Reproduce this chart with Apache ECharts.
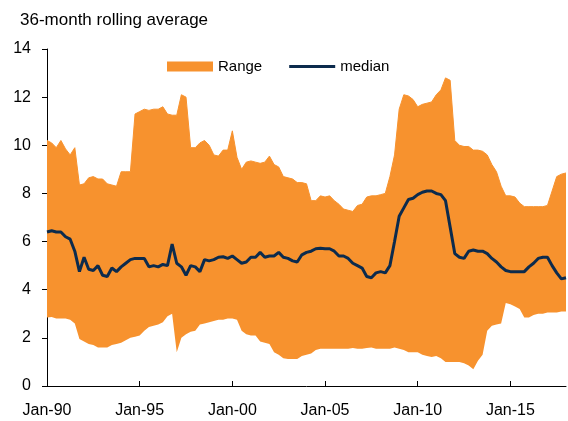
<!DOCTYPE html>
<html lang="en">
<head>
<meta charset="UTF-8">
<title>36-month rolling average</title>
<script src="https://cdn.jsdelivr.net/npm/echarts@6/dist/echarts.min.js"></script>
<style>
  html, body { margin: 0; padding: 0; background: #fff; }
  #chart { width: 568px; height: 421px; }
</style>
</head>
<body>
<div id="chart"></div>
<script>
// quarterly points, Jan-90 .. Jan-18
var months = ['Jan', 'Apr', 'Jul', 'Oct'];
var tickLabels = ['Jan-90', 'Jan-95', 'Jan-00', 'Jan-05', 'Jan-10', 'Jan-15'];

var rangeHigh = [
  10.2, 10.1, 9.9, 10.2, 9.85, 9.6, 9.9, 8.35, 8.4, 8.65,
  8.7, 8.6, 8.6, 8.4, 8.35, 8.3, 8.9, 8.9, 8.9, 11.3,
  11.4, 11.5, 11.45, 11.5, 11.5, 11.6, 11.3, 11.25, 11.25, 12.1,
  12.0, 9.9, 9.9, 10.1, 10.2, 10.0, 9.6, 9.55, 9.8, 9.8,
  10.6, 9.5, 9.0, 9.3, 9.35, 9.3, 9.25, 9.3, 9.55, 9.2,
  9.1, 8.7, 8.65, 8.6, 8.45, 8.45, 8.4, 7.7, 7.7, 7.9,
  7.85, 7.9, 7.7, 7.55, 7.35, 7.3, 7.25, 7.5, 7.55, 7.85,
  7.9, 7.9, 7.95, 8.0, 8.7, 9.6, 11.5, 12.1, 12.05, 11.9,
  11.6, 11.7, 11.75, 11.8, 12.1, 12.3, 12.8, 12.7, 10.2, 10.0,
  9.95, 9.95, 9.8, 9.8, 9.75, 9.6, 9.2, 8.9, 8.3, 7.9,
  7.9, 7.85, 7.6, 7.45, 7.45, 7.45, 7.45, 7.45, 7.5, 8.1,
  8.7, 8.8, 8.85
];

var rangeLow = [
  2.85, 2.87, 2.8, 2.8, 2.8, 2.75, 2.6, 1.95, 1.85, 1.75,
  1.7, 1.6, 1.6, 1.6, 1.7, 1.75, 1.8, 1.9, 2.0, 2.05,
  2.1, 2.3, 2.45, 2.5, 2.55, 2.65, 2.9, 3.0, 1.4, 2.0,
  2.15, 2.25, 2.3, 2.55, 2.6, 2.65, 2.7, 2.75, 2.75, 2.8,
  2.8, 2.75, 2.3, 2.15, 2.1, 2.1, 1.85, 1.8, 1.75, 1.4,
  1.3, 1.15, 1.12, 1.12, 1.12, 1.25, 1.3, 1.35, 1.5, 1.55,
  1.55, 1.55, 1.55, 1.55, 1.55, 1.55, 1.58, 1.55, 1.55, 1.58,
  1.6, 1.55, 1.55, 1.55, 1.55, 1.6, 1.55, 1.5, 1.4, 1.4,
  1.4, 1.3, 1.25, 1.2, 1.25, 1.15, 1.0, 1.0, 1.0, 1.0,
  0.95, 0.85, 0.7, 1.05, 1.3, 2.3, 2.5, 2.55, 2.6, 3.45,
  3.4, 3.3, 3.2, 2.85, 2.85, 2.95, 3.0, 3.0, 3.05, 3.05,
  3.05, 3.1, 3.1
];

var median = [
  6.4, 6.45, 6.4, 6.4, 6.2, 6.1, 5.6, 4.75, 5.35, 4.85,
  4.8, 5.0, 4.6, 4.55, 4.9, 4.75, 4.95, 5.1, 5.25, 5.3,
  5.3, 5.3, 4.95, 5.0, 4.95, 5.05, 5.0, 5.9, 5.1, 4.95,
  4.6, 5.0, 4.95, 4.75, 5.25, 5.2, 5.25, 5.35, 5.37, 5.3,
  5.4, 5.25, 5.1, 5.15, 5.35, 5.35, 5.55, 5.35, 5.4, 5.4,
  5.55, 5.35, 5.3, 5.2, 5.15, 5.45, 5.55, 5.6, 5.7, 5.72,
  5.7, 5.7, 5.6, 5.4, 5.4, 5.3, 5.1, 5.0, 4.9, 4.55,
  4.5, 4.7, 4.75, 4.7, 5.0, 6.0, 7.05, 7.4, 7.75, 7.8,
  7.95, 8.05, 8.1, 8.1, 8.0, 7.95, 7.7, 6.6, 5.5, 5.35,
  5.3, 5.6, 5.65, 5.6, 5.6, 5.5, 5.3, 5.15, 4.95, 4.8,
  4.75, 4.75, 4.75, 4.75, 4.95, 5.1, 5.3, 5.35, 5.35, 5.0,
  4.7, 4.45, 4.5
];

var categories = [];
for (var i = 0; i < median.length; i++) {
  var yr = (90 + Math.floor(i / 4)) % 100;
  categories.push(months[i % 4] + '-' + (yr < 10 ? '0' + yr : yr));
}
// band thickness for the stacked area
var rangeSpan = rangeHigh.map(function (v, i) { return +(v - rangeLow[i]).toFixed(2); });

var orange = '#F7922E';
var navy = '#0C2B4D';
var font = '"Liberation Sans", Arial, sans-serif';
// thin bar icon for the median legend entry (corner dots keep the 46x10 box)
var lineIcon = 'path://M0,0h0.01v0.01h-0.01zM0,3.5h46v3h-46zM45.99,9.99h0.01v0.01h-0.01z';

var myChart = echarts.init(document.getElementById('chart'));
myChart.setOption({
  animation: false,
  title: {
    text: '36-month rolling average',
    left: 15,
    top: 7,
    textStyle: { fontFamily: font, fontSize: 17, fontWeight: 'normal', color: '#000' }
  },
  legend: {
    left: 162,
    top: 54,
    itemWidth: 46,
    itemHeight: 10,
    itemGap: 27,
    textStyle: { fontFamily: font, fontSize: 15, color: '#000' },
    data: [{ name: 'Range', icon: 'rect' }, { name: 'median', icon: lineIcon }]
  },
  grid: { left: 47, right: 2, top: 49, bottom: 35 },
  xAxis: {
    type: 'category',
    boundaryGap: false,
    data: categories,
    axisLine: { lineStyle: { color: '#000', width: 1 } },
    axisTick: {
      inside: true,
      length: 5,
      interval: function (idx) { return idx % 20 === 0; },
      lineStyle: { color: '#000' }
    },
    axisLabel: {
      interval: function (idx) { return idx % 20 === 0; },
      formatter: function (v) { return tickLabels.indexOf(v) >= 0 ? v : ''; },
      margin: 17,
      fontFamily: font,
      fontSize: 16,
      color: '#000'
    },
    splitLine: { show: false }
  },
  yAxis: {
    type: 'value',
    min: 0,
    max: 14,
    interval: 2,
    axisLine: { show: true, lineStyle: { color: '#000', width: 1 } },
    axisTick: { show: true, length: 5, lineStyle: { color: '#000' } },
    axisLabel: { margin: 16, fontFamily: font, fontSize: 16, color: '#000' },
    splitLine: { show: false }
  },
  series: [
    {
      name: 'low',
      type: 'line',
      stack: 'band',
      data: rangeLow,
      symbol: 'none',
      lineStyle: { opacity: 0 },
      silent: true
    },
    {
      name: 'Range',
      type: 'line',
      stack: 'band',
      data: rangeSpan,
      symbol: 'none',
      color: orange,
      lineStyle: { width: 1, color: orange },
      areaStyle: { color: orange, opacity: 1 }
    },
    {
      name: 'median',
      type: 'line',
      data: median,
      symbol: 'none',
      color: navy,
      lineStyle: { width: 3, color: navy }
    }
  ]
});
</script>
</body>
</html>
